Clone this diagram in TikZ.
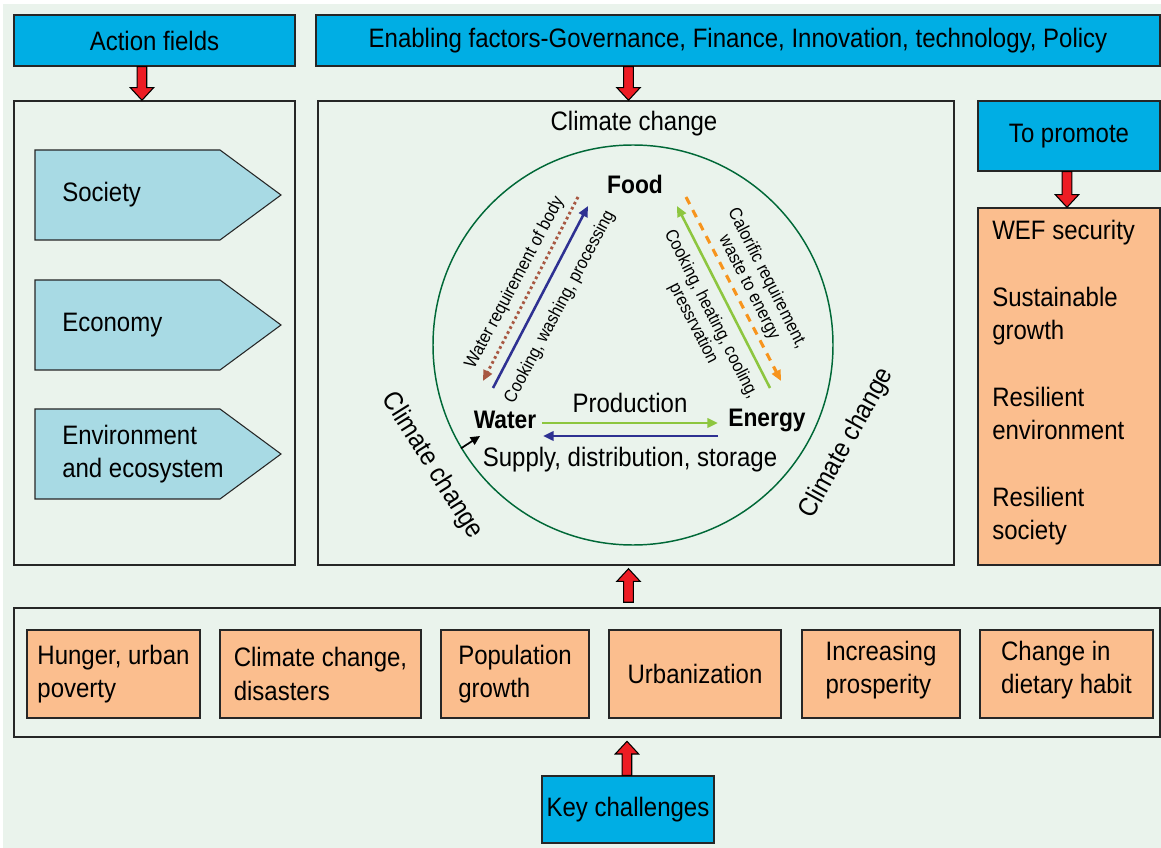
\documentclass[tikz,border=0pt]{standalone}
\usepackage{fontspec}
\setmainfont{Liberation Sans}[FakeStretch=0.9]
\usetikzlibrary{calc,fit,arrows.meta}
\definecolor{bgc}{RGB}{234,243,236}
\definecolor{hdr}{RGB}{0,174,228}
\definecolor{peach}{RGB}{251,190,142}
\definecolor{lblue}{RGB}{168,218,228}
\definecolor{arrred}{RGB}{237,28,36}
\definecolor{dblue}{RGB}{46,49,146}
\definecolor{lgreen}{RGB}{141,198,63}
\definecolor{orng}{RGB}{247,148,29}
\definecolor{brwn}{RGB}{168,88,66}
\definecolor{dgreen}{RGB}{0,104,55}
\newcommand\mainsz{\fontsize{20}{25}\selectfont}
\newcommand\smallsz{\fontsize{13.5}{15}\selectfont}
\newcommand\boldsz{\fontsize{19}{24}\selectfont\bfseries}
\newcommand\blockarr[2]{%
  \coordinate (bah) at ($(#2)!9.5pt!(#1)$);
  \draw[redarrow] ($(#1)!3.6pt!90:(#2)$) -- ($(bah)!3.6pt!-90:(#1)$) -- ($(bah)!8.8pt!-90:(#1)$) -- (#2)
    -- ($(bah)!8.8pt!90:(#1)$) -- ($(bah)!3.6pt!90:(#1)$) -- ($(#1)!3.6pt!-90:(#2)$) -- cycle;}
\begin{document}
\begin{tikzpicture}[x=0.75pt,y=-0.75pt,
  every node/.style={font=\mainsz, inner sep=0pt},
  panel/.style={draw=black!85, line width=1.1pt, inner sep=0pt},
  hbox/.style={draw=black!85, line width=1pt, fill=hdr, inner sep=0pt},
  pbox/.style={draw=black!85, line width=1pt, fill=peach, inner sep=0pt},
  btext/.style={align=left},
  pent/.style={draw=black!85, line width=0.8pt, fill=lblue},
  redarrow/.style={draw=black, line width=0.8pt, fill=arrred, line join=miter},
  flow/.style={line width=1.9pt, -{Triangle[length=8pt,width=7pt]}},
  rlab/.style={font=\smallsz, align=center},
  blab/.style={font=\boldsz}
]
\useasboundingbox (0,0) rectangle (1161,848);
\fill[white] (0,0) rectangle (1161,848);
\fill[bgc] (3,4) rectangle (1161,848);

% headers
\node[hbox, fit={(14,15) (295,66)}] (af) {};
\node (aft) at (af.center) {Action fields};
\node[hbox, fit={(316,15) (1160,66)}] (ef) {};
\node (eft) at (ef.center) {Enabling factors-Governance, Finance, Innovation, technology, Policy};
\node[hbox, fit={(978,101) (1160,171)}] (tp) {};
\node (tpt) at (tp.center) {To promote};
\node[hbox, fit={(542,776) (714,843)}] (kc) {};
\node (kct) at (kc.center) {Key challenges};

% panels
\node[panel, fit={(14,101) (295,565)}] (lp) {};
\node[panel, fit={(318,101) (954,565)}] (cp) {};
\node[panel, fit={(14,608) (1160,737)}] (bp) {};

% promote box
\node[pbox, fit={(978,208) (1160,565)}] (wef) {};
\node[anchor=west, btext] (weft) at (992,383) {WEF security\\[25pt]Sustainable\\growth\\[25pt]Resilient\\environment\\[25pt]Resilient\\society};

% action field pentagons
\draw[pent] (35,150) -- (220,150) -- (281,195) -- (220,240) -- (35,240) -- cycle;
\draw[pent] (35,280) -- (220,280) -- (281,325) -- (220,370) -- (35,370) -- cycle;
\draw[pent] (35,409) -- (220,409) -- (281,454) -- (220,499) -- (35,499) -- cycle;
\node[anchor=west] (soc) at (62,195) {Society};
\node[anchor=west] (eco) at (62,325) {Economy};
\node[anchor=west, btext] (env) at (62,454) {Environment\\and ecosystem};

% challenges
\node[pbox, fit={(27,630) (200,718)}] (c1) {};
\node[btext] (c1t) at (c1.center) {Hunger, urban\\poverty};
\node[pbox, fit={(220,630) (421,718)}] (c2) {};
\node[btext] (c2t) at (c2.center) {Climate change,\\disasters};
\node[pbox, fit={(441,630) (589,718)}] (c3) {};
\node[btext] (c3t) at (c3.center) {Population\\growth};
\node[pbox, fit={(609,630) (781,718)}] (c4) {};
\node[btext] (c4t) at (c4.center) {Urbanization};
\node[pbox, fit={(802,630) (960,718)}] (c5) {};
\node[btext] (c5t) at ([yshift=3]c5.center) {Increasing\\prosperity};
\node[pbox, fit={(980,630) (1153,718)}] (c6) {};
\node[btext] (c6t) at ([yshift=3]c6.center) {Change in\\dietary habit};

% red block arrows
\coordinate (a1s) at ([xshift=-9.4pt]af.south);
\coordinate (a1e) at ([xshift=-9.4pt]lp.north);
\blockarr{a1s}{a1e}
\coordinate (a2s) at ($(cp.north |- ef.south)+(-7.5,0)$);
\coordinate (a2e) at ($(cp.north)+(-7.5,0)$);
\blockarr{a2s}{a2e}
\coordinate (a3s) at ([xshift=-1.5pt]tp.south);
\coordinate (a3e) at ([xshift=-1.5pt]wef.north);
\blockarr{a3s}{a3e}
\coordinate (a4s) at ($(bp.north -| cp.south)+(-7.5,-5)$);
\coordinate (a4e) at ($(cp.south)+(-7.5,3)$);
\blockarr{a4s}{a4e}
\coordinate (a5s) at ([xshift=-0.8pt]kc.north);
\coordinate (a5e) at ($(kc.north)+(-1,-34)$);
\blockarr{a5s}{a5e}

% nexus circle
\node[circle, draw=dgreen, line width=1.1pt, minimum size=300pt] (circ) at (633,345) {};
\node (cct) at (634,124) {Climate change};
\node[rotate=-58] (ccl) at (432,466) {Climate change};
\node[rotate=61] (ccr) at (847,443) {Climate change};

\node[blab] (food) at (635,184) {Food};
\node[blab] (water) at (505,420) {Water};
\node[blab] (energy) at (767,420) {Energy};

\node (prod) at (630,403) {Production};
\node (sup) at (630,460) {Supply, distribution, storage};

\draw[flow, lgreen] ([shift={(37,3)}]water.center) -- ([shift={(-49,3)}]energy.center);
\draw[flow, dblue] ([shift={(-49,16)}]energy.center) -- ([shift={(38,16)}]water.center);

\draw[flow, dblue] ([shift={(-12,-32)}]water.center) -- ([shift={(-47,22)}]food.center);
\draw[flow, brwn, line width=2.2pt, dash pattern=on 2pt off 2.2pt] ([shift={(-57,13)}]food.center) -- ([shift={(-22,-39)}]water.center);
\draw[flow, lgreen] ([shift={(3,-32)}]energy.center) -- ([shift={(42,22)}]food.center);
\draw[flow, orng, line width=2.3pt, dash pattern=on 6pt off 5pt] ([shift={(51,13)}]food.center) -- ([shift={(14,-39)}]energy.center);

\node[rlab, rotate=62] (wrb) at (515,283) {Water requirement of body};
\node[rlab, rotate=62] (cwp) at (560,307) {Cooking, washing, processing};
\node[rlab, rotate=-63] (crw) at (758,283) {Calorific requirement,\\waste to energy};
\node[rlab, rotate=-63] (chc) at (702,319) {Cooking, heating, cooling,\\pressrvation};

\draw[line width=1.3pt, -{Triangle[length=7pt,width=6.5pt]}] (circ.211) -- ([shift={(-25,16)}]water.center);
\end{tikzpicture}
\end{document}
